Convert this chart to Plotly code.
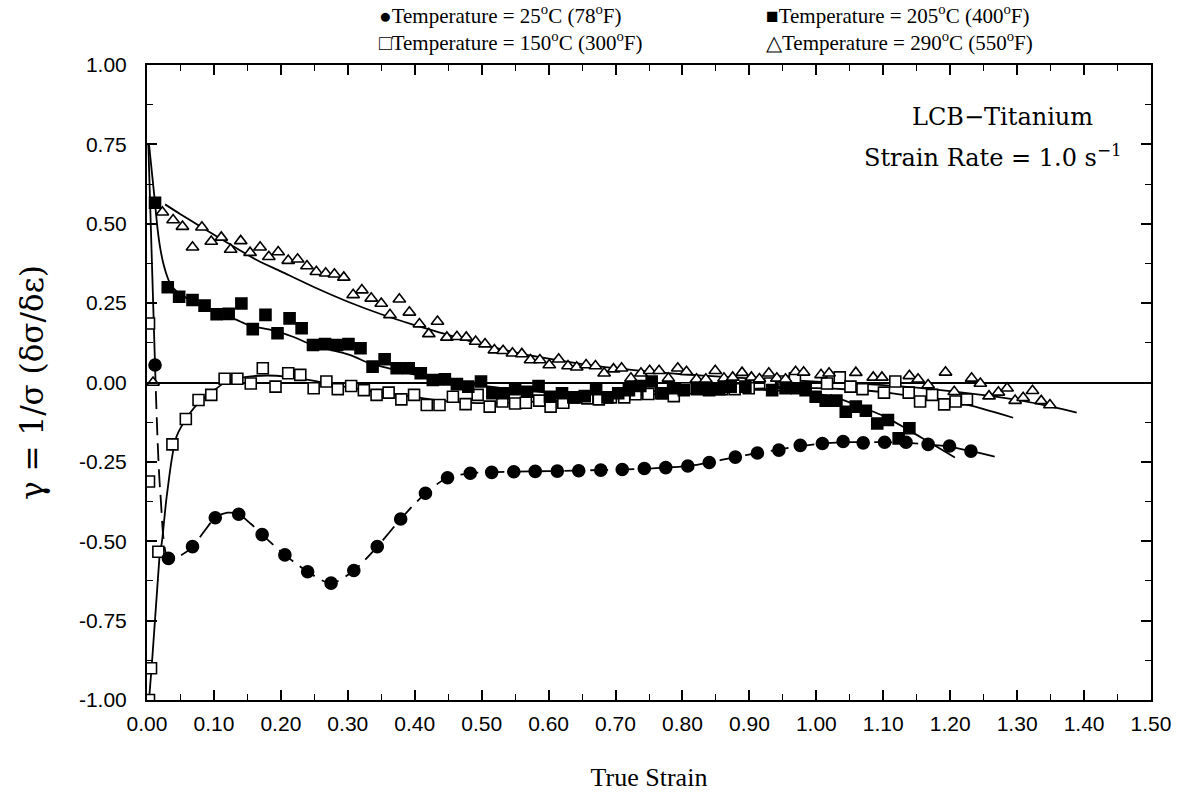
import plotly.graph_objects as go

# ---- Measured data: true strain vs. gamma = 1/sigma (d sigma / d eps) ----
# 25 C (78 F)
t25_x = [0.012, 0.032, 0.068, 0.102, 0.137, 0.172, 0.206, 0.240, 0.275, 0.309, 0.344, 0.379,
         0.416, 0.449, 0.483, 0.515, 0.548, 0.580, 0.613, 0.645, 0.678, 0.710, 0.743, 0.775,
         0.808, 0.840, 0.879, 0.912, 0.944, 0.976, 1.009, 1.040, 1.070, 1.102, 1.134, 1.167,
         1.199, 1.231]
t25_y = [0.055, -0.554, -0.517, -0.426, -0.415, -0.479, -0.543, -0.596, -0.632, -0.592, -0.517,
         -0.430, -0.349, -0.300, -0.286, -0.283, -0.281, -0.280, -0.279, -0.278, -0.276, -0.274,
         -0.271, -0.268, -0.263, -0.252, -0.235, -0.222, -0.213, -0.198, -0.192, -0.186, -0.190,
         -0.188, -0.188, -0.195, -0.200, -0.216]

# 150 C (300 F)
t150_x = [0.003, 0.003, 0.006, 0.003, 0.017, 0.038, 0.058, 0.077, 0.096, 0.116, 0.135, 0.155,
          0.173, 0.192, 0.211, 0.229, 0.249, 0.268, 0.285, 0.305, 0.324, 0.343, 0.361, 0.380,
          0.399, 0.418, 0.437, 0.457, 0.476, 0.494, 0.512, 0.531, 0.550, 0.566, 0.586, 0.603,
          0.622, 0.641, 0.658, 0.675, 0.693, 0.713, 0.730, 0.749, 0.768, 0.787, 0.805, 0.822,
          0.840, 0.859, 0.878, 0.899, 0.931, 0.951, 0.968, 1.016, 1.035, 1.051, 1.069, 1.101,
          1.118, 1.138, 1.155, 1.173, 1.191, 1.208, 1.225]
t150_y = [0.186, -0.312, -0.900, -1.000, -0.533, -0.195, -0.115, -0.055, -0.039, 0.012, 0.012,
          -0.003, 0.045, -0.013, 0.029, 0.024, -0.018, 0.003, -0.021, -0.011, -0.024, -0.039,
          -0.032, -0.053, -0.039, -0.071, -0.071, -0.045, -0.068, -0.039, -0.076, -0.060, -0.066,
          -0.064, -0.057, -0.076, -0.064, -0.047, -0.050, -0.053, -0.047, -0.047, -0.037, -0.036,
          -0.034, -0.043, -0.018, -0.021, -0.024, -0.021, -0.021, -0.018, -0.003, 0.003, 0.013,
          -0.003, 0.016, -0.013, -0.021, -0.032, 0.003, -0.032, -0.060, -0.039, -0.069, -0.060,
          -0.053]

# 205 C (400 F)
t205_x = [0.012, 0.031, 0.048, 0.068, 0.086, 0.104, 0.122, 0.141, 0.158, 0.177, 0.195, 0.213,
          0.231, 0.248, 0.266, 0.284, 0.301, 0.319, 0.337, 0.355, 0.373, 0.391, 0.409, 0.427,
          0.445, 0.463, 0.480, 0.499, 0.516, 0.533, 0.550, 0.568, 0.585, 0.602, 0.620, 0.637,
          0.654, 0.671, 0.688, 0.704, 0.720, 0.737, 0.754, 0.770, 0.786, 0.802, 0.822, 0.839,
          0.855, 0.872, 0.894, 0.934, 0.954, 0.971, 0.984, 0.999, 1.014, 1.030, 1.044, 1.059,
          1.074, 1.091, 1.107, 1.123, 1.139]
t205_y = [0.566, 0.300, 0.270, 0.260, 0.242, 0.215, 0.216, 0.249, 0.168, 0.213, 0.155, 0.202,
          0.171, 0.118, 0.121, 0.118, 0.121, 0.108, 0.050, 0.073, 0.045, 0.045, 0.029, 0.008,
          0.010, -0.005, -0.013, 0.003, -0.034, -0.034, -0.021, -0.029, -0.011, -0.045, -0.034,
          -0.047, -0.043, -0.021, -0.047, -0.034, -0.024, -0.011, 0.003, -0.034, -0.018, -0.024,
          -0.018, -0.021, -0.021, -0.013, -0.013, -0.024, -0.018, -0.018, -0.024, -0.045, -0.057,
          -0.057, -0.092, -0.076, -0.089, -0.129, -0.118, -0.176, -0.144]

# 290 C (550 F)
t290_x = [0.009, 0.023, 0.039, 0.053, 0.068, 0.082, 0.096, 0.111, 0.125, 0.140, 0.154, 0.169,
          0.182, 0.196, 0.211, 0.225, 0.239, 0.253, 0.267, 0.280, 0.294, 0.308, 0.321, 0.335,
          0.350, 0.363, 0.377, 0.392, 0.407, 0.421, 0.434, 0.448, 0.463, 0.477, 0.491, 0.505,
          0.519, 0.532, 0.546, 0.560, 0.573, 0.587, 0.601, 0.615, 0.629, 0.642, 0.656, 0.670,
          0.683, 0.697, 0.709, 0.723, 0.738, 0.751, 0.765, 0.779, 0.793, 0.806, 0.821, 0.835,
          0.849, 0.862, 0.875, 0.889, 0.903, 0.915, 0.929, 0.941, 0.954, 0.969, 0.981, 1.007,
          1.019, 1.059, 1.085, 1.098, 1.139, 1.152, 1.167, 1.193, 1.206, 1.232, 1.245, 1.258,
          1.272, 1.285, 1.297, 1.309, 1.323, 1.336, 1.349]
t290_y = [0.000, 0.536, 0.512, 0.491, 0.426, 0.489, 0.444, 0.457, 0.419, 0.446, 0.409, 0.426,
          0.396, 0.411, 0.384, 0.388, 0.367, 0.349, 0.344, 0.341, 0.331, 0.276, 0.291, 0.265,
          0.249, 0.213, 0.262, 0.221, 0.184, 0.153, 0.192, 0.142, 0.144, 0.142, 0.129, 0.121,
          0.102, 0.100, 0.092, 0.090, 0.071, 0.071, 0.055, 0.073, 0.052, 0.048, 0.055, 0.052,
          0.029, 0.042, 0.045, 0.013, 0.029, 0.037, 0.037, 0.013, 0.045, 0.034, 0.010, 0.010,
          0.037, 0.013, 0.016, 0.031, 0.016, 0.011, 0.029, 0.013, 0.010, 0.034, 0.032, 0.024,
          0.029, 0.031, 0.016, 0.016, 0.021, 0.010, -0.008, 0.032, -0.029, 0.013, -0.003, -0.043,
          -0.031, -0.018, -0.057, -0.048, -0.026, -0.058, -0.071]

# ---- Fitted curves ----
fit25_x = [0.012, 0.020, 0.032, 0.050, 0.068, 0.085, 0.102, 0.120, 0.137, 0.155, 0.172, 0.206,
           0.240, 0.275, 0.309, 0.344, 0.379, 0.416, 0.449, 0.483, 0.55, 0.65, 0.75, 0.808,
           0.840, 0.879, 0.912, 0.944, 0.976, 1.009, 1.040, 1.070, 1.102, 1.134, 1.167, 1.199,
           1.231, 1.272]
fit25_y = [0.055, -0.35, -0.554, -0.545, -0.517, -0.470, -0.426, -0.410, -0.415, -0.445, -0.479,
           -0.543, -0.596, -0.632, -0.592, -0.517, -0.430, -0.349, -0.300, -0.286, -0.281,
           -0.277, -0.271, -0.263, -0.252, -0.235, -0.222, -0.211, -0.200, -0.192, -0.188,
           -0.188, -0.188, -0.190, -0.195, -0.202, -0.216, -0.236]

fit150_x = [0.019, 0.022, 0.030, 0.044, 0.064, 0.079, 0.100, 0.119, 0.149, 0.180, 0.210, 0.250,
            0.300, 0.350, 0.400, 0.452, 0.507, 0.550, 0.600, 0.650, 0.700, 0.750, 0.800, 0.850,
            0.900, 0.950, 1.000, 1.050, 1.100, 1.150, 1.217, 1.294]
fit150_y = [-0.538, -0.506, -0.349, -0.171, -0.097, -0.060, -0.025, 0.003, 0.018, 0.022, 0.018,
            0.005, -0.015, -0.032, -0.046, -0.060, -0.065, -0.063, -0.058, -0.052, -0.045, -0.038,
            -0.030, -0.024, -0.020, -0.018, -0.018, -0.022, -0.030, -0.045, -0.066, -0.111]

fit205_x = [0.012, 0.016, 0.020, 0.025, 0.030, 0.035, 0.045, 0.060, 0.080, 0.100, 0.134, 0.154,
            0.188, 0.218, 0.248, 0.303, 0.333, 0.360, 0.400, 0.450, 0.500, 0.550, 0.600, 0.650,
            0.700, 0.750, 0.800, 0.850, 0.900, 0.950, 1.000, 1.033, 1.070, 1.100, 1.138, 1.170,
            1.207]
fit205_y = [0.566, 0.480, 0.420, 0.370, 0.335, 0.310, 0.285, 0.265, 0.245, 0.228, 0.197, 0.179,
            0.165, 0.144, 0.118, 0.087, 0.060, 0.045, 0.025, 0.005, -0.010, -0.022, -0.032,
            -0.035, -0.033, -0.028, -0.024, -0.022, -0.022, -0.026, -0.035, -0.050, -0.080,
            -0.105, -0.150, -0.190, -0.236]

fit290_x = [0.027, 0.050, 0.084, 0.120, 0.164, 0.200, 0.250, 0.303, 0.350, 0.395, 0.450, 0.500,
            0.550, 0.600, 0.650, 0.700, 0.750, 0.800, 0.850, 0.900, 0.950, 1.000, 1.050, 1.100,
            1.150, 1.200, 1.250, 1.300, 1.361, 1.389]
fit290_y = [0.561, 0.530, 0.486, 0.440, 0.386, 0.350, 0.300, 0.252, 0.215, 0.184, 0.150, 0.120,
            0.095, 0.075, 0.058, 0.045, 0.034, 0.026, 0.019, 0.013, 0.008, 0.003, -0.002, -0.008,
            -0.016, -0.027, -0.040, -0.055, -0.081, -0.095]

# Steep initial branches near zero strain
init25_x = [0.002, 0.012]
init25_y = [0.750, 0.055]
init150_x = [0.003, 0.007, 0.019]
init150_y = [-1.000, -0.895, -0.538]
init205_x = [0.003, 0.008, 0.012]
init205_y = [0.750, 0.640, 0.566]

x_ticks = [round(0.1 * i, 2) for i in range(16)]
y_ticks = [1.0, 0.75, 0.5, 0.25, 0.0, -0.25, -0.5, -0.75, -1.0]

fig = go.Figure()

def curve(x, y, dash="solid", shape="spline"):
    fig.add_trace(go.Scatter(x=x, y=y, mode="lines", showlegend=False, hoverinfo="skip",
                             line=dict(color="black", width=1.8, dash=dash, shape=shape,
                                       smoothing=0.8)))

curve(init25_x, init25_y, shape="linear")
curve(init150_x, init150_y, shape="linear")
curve(init205_x, init205_y, shape="linear")
curve(fit25_x, fit25_y, dash="18px,8px")
curve(fit150_x, fit150_y)
curve(fit205_x, fit205_y)
curve(fit290_x, fit290_y)

def points(x, y, symbol, fill, name, size=11):
    fig.add_trace(go.Scatter(x=x, y=y, mode="markers", name=name, showlegend=False,
                             marker=dict(symbol=symbol, size=size, color=fill,
                                         line=dict(color="black", width=1.6))))

points(t150_x, t150_y, "square", "white", "150 C")
points(t290_x, t290_y, "triangle-up", "white", "290 C", size=11)
points(t205_x, t205_y, "square", "black", "205 C")
points(t25_x, t25_y, "circle", "black", "25 C", size=12)

serif = "DejaVu Serif, serif"
narrow_serif = "Liberation Serif, serif"
sans = "Liberation Sans, Arial, sans-serif"

axis_common = dict(showline=True, linecolor="black", linewidth=2, mirror="ticks",
                   ticks="inside", tickcolor="black", tickwidth=1.5, ticklen=10,
                   showgrid=False, tickfont=dict(family=sans, size=21, color="black"))

fig.update_xaxes(range=[0, 1.5], tickvals=x_ticks, ticktext=[f"{v:.2f}" for v in x_ticks],
                 minor=dict(dtick=0.05, tick0=0, ticks="inside", ticklen=6, tickwidth=1.3,
                            tickcolor="black", showgrid=False),
                 zeroline=False, ticklabelstandoff=4,
                 title=dict(text="True Strain", font=dict(family=narrow_serif, size=26, color="black"),
                            standoff=34),
                 **axis_common)
fig.update_yaxes(range=[-1.0, 1.0], tickvals=y_ticks, ticktext=[f"{v:.2f}" for v in y_ticks],
                 minor=dict(dtick=0.125, tick0=0, ticks="inside", ticklen=6, tickwidth=1.3,
                            tickcolor="black", showgrid=False),
                 zeroline=True, zerolinecolor="black", zerolinewidth=1.5, ticklabelstandoff=14,
                 title=dict(text="γ = 1/σ (δσ/δε)", font=dict(family=serif, size=31, color="black"),
                            standoff=26),
                 **axis_common)

# Legend columns above the frame
legend_cols = [
    (0.229, "●Temperature = 25<sup>o</sup>C (78<sup>o</sup>F)<br>"
            "□Temperature = 150<sup>o</sup>C (300<sup>o</sup>F)"),
    (0.615, "■Temperature = 205<sup>o</sup>C (400<sup>o</sup>F)<br>"
            "△Temperature = 290<sup>o</sup>C (550<sup>o</sup>F)"),
]
for lx, txt in legend_cols:
    fig.add_annotation(x=lx, y=1.059, xref="paper", yref="paper", xanchor="left",
                       yanchor="middle", align="left", text=txt, showarrow=False,
                       font=dict(family=narrow_serif, size=21, color="black"))

fig.add_annotation(x=0.944, y=0.918, xref="paper", yref="paper", xanchor="right", yanchor="middle",
                   text="LCB−Titanium", showarrow=False,
                   font=dict(family=serif, size=24, color="black"))
fig.add_annotation(x=0.973, y=0.857, xref="paper", yref="paper", xanchor="right", yanchor="middle",
                   text="Strain Rate = 1.0 s<sup>−1</sup>", showarrow=False,
                   font=dict(family=serif, size=24, color="black"))

fig.update_layout(width=1183, height=804, margin=dict(l=147, r=30, t=65, b=104),
                  paper_bgcolor="white", plot_bgcolor="white", showlegend=False)

fig.write_html("out.html")
